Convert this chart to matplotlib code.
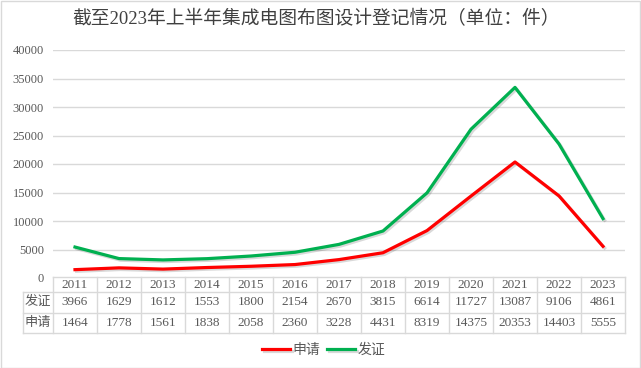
# -*- coding: utf-8 -*-
import matplotlib
matplotlib.use('Agg')
from matplotlib import pyplot as plt
from matplotlib import patheffects as pe
from matplotlib import transforms as mtrans

plt.rcParams['font.family'] = ['Liberation Serif', 'Noto Sans CJK SC', 'DejaVu Sans']

# data
years = ['2011', '2012', '2013', '2014', '2015', '2016', '2017',
         '2018', '2019', '2020', '2021', '2022', '2023']
fazheng = [3966, 1629, 1612, 1553, 1800, 2154, 2670, 3815, 6614, 11727, 13087, 9106, 4861]
shenqing = [1464, 1778, 1561, 1838, 2058, 2360, 3228, 4431, 8319, 14375, 20353, 14403, 5555]
row_names = ['发证', '申请']
title = '截至2023年上半年集成电图布图设计登记情况（单位：件）'

W, H = 641, 368
fig = plt.figure(figsize=(W / 100, H / 100), dpi=100)
fig.patches.append(plt.Rectangle((0.5 / W, 0.5 / H), 1 - 1.5 / W, 1 - 1.5 / H,
                                 transform=fig.transFigure, fill=False,
                                 edgecolor='#d9d9d9', lw=1))

# plot area in pixels
left, right, top, bottom = 53, 625, 50, 278
ax = fig.add_axes([left / W, 1 - bottom / H, (right - left) / W, (bottom - top) / H])

x = list(range(len(years)))
stacked = [a + b for a, b in zip(shenqing, fazheng)]
shadow = [pe.SimpleLineShadow(offset=(1.2, -1.2), alpha=0.15), pe.Normal()]
ax.plot(x, shenqing, color='#ff0000', lw=2.3, label='申请', path_effects=shadow,
        solid_joinstyle='round')
ax.plot(x, stacked, color='#00b050', lw=2.3, label='发证', path_effects=shadow,
        solid_joinstyle='round')

ax.set_xlim(-0.5, len(years) - 0.5)
ax.set_ylim(0, 40000)
ax.set_yticks(range(0, 40001, 5000))
ax.tick_params(axis='y', length=0, labelsize=9, labelcolor='#595959', pad=6.5)
ax.set_xticks([])
ax.grid(axis='y', color='#d9d9d9', lw=1)
ax.set_axisbelow(True)
for s in ax.spines.values():
    s.set_visible(False)

# data table under the axis
trans = mtrans.blended_transform_factory(ax.transData, ax.transAxes)
ph = bottom - top
row_edges = [277, 292, 312.5, 333]
ry = [(bottom - r) / ph for r in row_edges]
lab_left = -0.5 - (left - 23) / ((right - left) / len(years))
line_kw = dict(color='#d9d9d9', lw=1, clip_on=False, transform=trans)

# horizontal lines
ax.plot([-0.5, len(years) - 0.5], [ry[0], ry[0]], **line_kw)
for r in ry[1:]:
    ax.plot([lab_left, len(years) - 0.5], [r, r], **line_kw)
# vertical lines
for i in range(len(years) + 1):
    ax.plot([i - 0.5, i - 0.5], [ry[0], ry[3]], **line_kw)
ax.plot([lab_left, lab_left], [ry[1], ry[3]], **line_kw)

txt_kw = dict(transform=trans, ha='center', va='center', fontsize=9.5,
              color='#595959', clip_on=False)
for i, yr in enumerate(years):
    ax.text(i, (ry[0] + ry[1]) / 2, yr, **txt_kw)
    ax.text(i, (ry[1] + ry[2]) / 2, str(fazheng[i]), **txt_kw)
    ax.text(i, (ry[2] + ry[3]) / 2, str(shenqing[i]), **txt_kw)
for j, name in enumerate(row_names):
    ax.text((lab_left - 0.5) / 2, (ry[j + 1] + ry[j + 2]) / 2, name, **txt_kw)

fig.text(316 / W, 1 - 19 / H, title, ha='center', va='center', fontsize=13.5,
         color='#404040')

leg = fig.legend(loc='center', bbox_to_anchor=(324 / W, 1 - 350 / H), ncol=2,
                 frameon=False, fontsize=10, handlelength=2.0, columnspacing=0.5,
                 handletextpad=0.2)
for t in leg.get_texts():
    t.set_color('#595959')

plt.savefig('out.png', dpi=100)
